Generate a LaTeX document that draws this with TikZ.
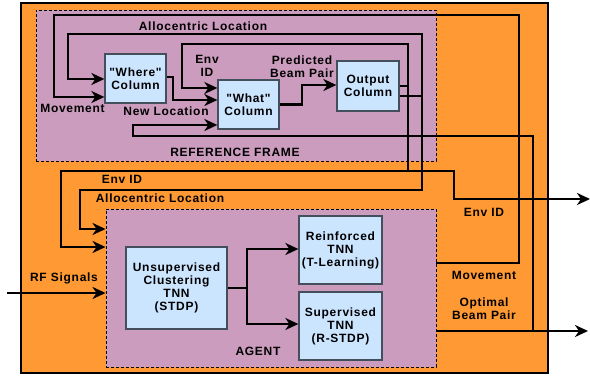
\documentclass[tikz,border=0pt]{standalone}
\usepackage{fontspec}
\newfontfamily\lblfont[LetterSpace=6]{Liberation Sans}
\usetikzlibrary{arrows.meta}
\definecolor{orng}{HTML}{FF9933}
\definecolor{purp}{HTML}{CB9CBD}
\definecolor{boxblue}{HTML}{CCE5FF}
\definecolor{boxgray}{HTML}{434F5B}
\begin{document}
\begin{tikzpicture}[x=1pt,y=-1pt,
  font=\lblfont\bfseries\fontsize{12}{13}\selectfont,
  wire/.style={line width=2.8pt},
  tipa/.tip={Stealth[length=13pt,width=12pt,inset=4pt]},
  arr/.style={wire,-tipa},
  darr/.style={wire,tipa-tipa},
  blk/.style={draw=boxgray,fill=boxblue,line width=1.3pt,align=center,inner sep=0pt},
  region/.style={draw=black,fill=purp,line width=0.9pt,dash pattern=on 3pt off 2pt,inner sep=0pt},
  txt/.style={align=center,inner sep=0pt}
]
\useasboundingbox (0,0) rectangle (590,379);
\node[draw=black,fill=orng,line width=2pt,minimum width=527pt,minimum height=370pt,inner sep=0pt] (outer) at (284.5,188) {};
\node[region,minimum width=400pt,minimum height=151pt] (ref) at (236,85.5) {};
\node[region,minimum width=330pt,minimum height=158pt] (agent) at (271,288) {};

\node[blk,minimum width=61pt,minimum height=49pt] (where) at (135.5,78.5) {"Where"\\Column};
\node[blk,minimum width=61pt,minimum height=49pt] (what) at (248.5,104.5) {"What"\\Column};
\node[blk,minimum width=62pt,minimum height=50pt] (out) at (368,86) {Output\\Column};
\node[blk,minimum width=101pt,minimum height=82pt] (uns) at (176.5,288) {Unsupervised\\Clustering\\TNN\\(STDP)};
\node[blk,minimum width=83pt,minimum height=68pt] (rein) at (340.5,250) {Reinforced\\TNN\\(T-Learning)};
\node[blk,minimum width=83pt,minimum height=68pt] (sup) at (340.5,326) {Supervised\\TNN\\(R-STDP)};

\coordinate (rfin) at (7,293);
\coordinate (envout) at (590,199);
\coordinate (optout) at (588,331);

% where -> what
\draw[arr] (where.east |- 0,77) -- (173,77) -- (173,100) -- (what.west |- 0,100);
% what -> output
\draw[arr] (what.east) -- (302,104.5) -- (302,85) -- (out.west |- 0,85);
% Env ID network
\draw[wire] (out.east |- 0,86) -- (409.4,86);
\draw[arr] (408,171) -- (408,44) -- (182,44) -- (182,88) -- (what.west |- 0,88);
\draw[darr] (agent.west |- 0,247) -- (61,247) -- (61,171) -- (454,171) -- (454,199) -- (envout);
% Allocentric network
\draw[wire] (out.east |- 0,96) -- (423.4,96);
\draw[darr] (where.west |- 0,79) -- (68,79) -- (68,34) -- (422,34) -- (422,190) -- (80,190) -- (80,229) -- (agent.west |- 0,229);
% Movement
\draw[arr] (agent.east |- 0,263) -- (519,263) -- (519,15) -- (54,15) -- (54,97) -- (where.west |- 0,97);
% Optimal beam pair
\draw[arr] (agent.east |- 0,331) -- (optout);
\draw[arr] (533,331) -- (533,136) -- (133,136) -- (133,125) -- (what.west |- 0,125);
% agent internal
\draw[wire] (uns.east) -- (248.4,288);
\draw[darr] (rein.west |- 0,249) -- (247,249) -- (247,324) -- (sup.west |- 0,324);
% RF signals
\draw[arr] (rfin) -- (agent.west |- 0,293);

% labels
\node[txt] (lAllo1) at (203,26.5) {Allocentric Location};
\node[txt] (lEnv1) at (207,66) {Env\\ID};
\node[txt] (lPred) at (302,67) {Predicted\\Beam Pair};
\node[txt] (lMov1) at (72.5,108.5) {Movement};
\node[txt] (lNew) at (166,111) {New Location};
\node[txt] (lRef) at (235,152) {REFERENCE FRAME};
\node[txt] (lEnv2) at (122,179) {Env ID};
\node[txt] (lAllo2) at (160,198) {Allocentric Location};
\node[txt] (lRF) at (64,278.5) {RF Signals};
\node[txt] (lAgent) at (258,351) {AGENT};
\node[txt] (lEnv3) at (484,212) {Env ID};
\node[txt] (lMov2) at (484,275.5) {Movement};
\node[txt] (lOpt) at (484,308.5) {Optimal\\Beam Pair};
\end{tikzpicture}
\end{document}
